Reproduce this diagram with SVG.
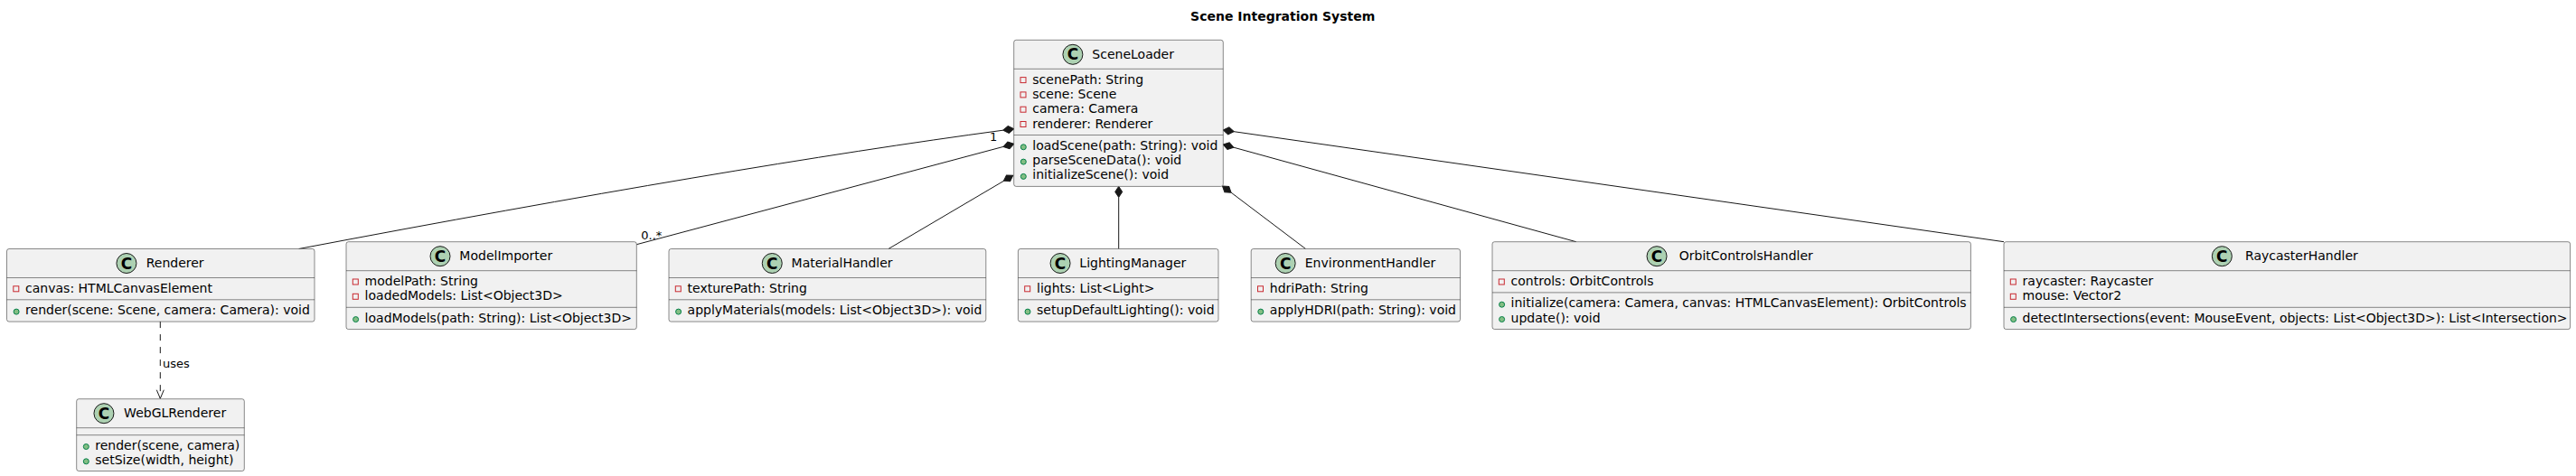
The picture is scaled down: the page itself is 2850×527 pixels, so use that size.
<svg xmlns="http://www.w3.org/2000/svg" xmlns:xlink="http://www.w3.org/1999/xlink" width="2850" height="527" viewBox="0 0 2850 527">
<style>
text{font-family:"DejaVu Sans","Liberation Sans",sans-serif;fill:#000}
.title{font-size:14px;font-weight:bold}
.box{fill:#F1F1F1;stroke:#181818;stroke-width:0.5}
.sep{stroke:#181818;stroke-width:0.5}
.badge{fill:#ADD1B2;stroke:#181818;stroke-width:1}
.ctxt{font-size:17px;font-weight:bold;text-anchor:middle}
.name{font-size:14px;text-anchor:middle}
.mem{font-size:14px}
.priv{fill:none;stroke:#C82930;stroke-width:1}
.pub{fill:#84BE84;stroke:#038048;stroke-width:1}
.edge{fill:none;stroke:#181818;stroke-width:1}
.dash{stroke-dasharray:7,7}
.lbl{font-size:13px}
.dia{fill:#181818;stroke:#181818;stroke-width:1}
</style>
<defs>
<path id="dia" d="M0,0 L6,-4 L12,0 L6,4 Z"/>
</defs>
<text class="title" x="1419.2" y="23.3" text-anchor="middle">Scene Integration System</text>

<g id="connectors">
<path class="edge" d="M1109.8,144.2 Q811.7,184.3 330.6,275.5"/>
<line class="edge" x1="1110.1" y1="162.4" x2="704.3" y2="270.7"/>
<line class="edge" x1="1110.4" y1="200.4" x2="983" y2="275.5"/>
<line class="edge" x1="1237.7" y1="218.4" x2="1237.7" y2="275.5"/>
<line class="edge" x1="1362.1" y1="213.2" x2="1444.5" y2="275.5"/>
<line class="edge" x1="1364.9" y1="163.2" x2="1743.75" y2="267.7"/>
<line class="edge" x1="1365.2" y1="145.7" x2="2217" y2="267.7"/>
<use xlink:href="#dia" href="#dia" class="dia" transform="translate(1121.7,142.7) rotate(172.6)"/>
<use xlink:href="#dia" href="#dia" class="dia" transform="translate(1121.7,159.3) rotate(165.06)"/>
<use xlink:href="#dia" href="#dia" class="dia" transform="translate(1120.7,194.3) rotate(149.53)"/>
<use xlink:href="#dia" href="#dia" class="dia" transform="translate(1237.7,206.4) rotate(90)"/>
<use xlink:href="#dia" href="#dia" class="dia" transform="translate(1352.5,206) rotate(37.07)"/>
<use xlink:href="#dia" href="#dia" class="dia" transform="translate(1353.3,160) rotate(15.42)"/>
<use xlink:href="#dia" href="#dia" class="dia" transform="translate(1353.3,144) rotate(8.15)"/>
<text class="lbl" x="1095" y="155.7">1</text>
<text class="lbl" x="709.3" y="265">0..*</text>
<line class="edge dash" x1="177.3" y1="356.1" x2="177.3" y2="440.7"/>
<polyline class="edge" points="173.3,431.7 177.3,441.2 181.3,431.7"/>
<text class="lbl" x="180" y="406.7">uses</text>
</g>

<g id="SceneLoader">
<rect class="box" x="1121.7" y="44.3" width="231.6" height="162.1" rx="2.5"/>
<circle class="badge" cx="1186.9" cy="60.3" r="11"/>
<text class="ctxt" x="1186.9" y="66.4">C</text>
<text class="name" x="1253.65" y="65">SceneLoader</text>
<line class="sep" x1="1121.7" y1="76.3" x2="1353.3" y2="76.3"/>
<rect class="priv" x="1129" y="85.6" width="6" height="6"/>
<text class="mem" x="1142.3" y="92.6">scenePath: String</text>
<rect class="priv" x="1129" y="101.9" width="6" height="6"/>
<text class="mem" x="1142.3" y="108.9">scene: Scene</text>
<rect class="priv" x="1129" y="118.2" width="6" height="6"/>
<text class="mem" x="1142.3" y="125.2">camera: Camera</text>
<rect class="priv" x="1129" y="134.5" width="6" height="6"/>
<text class="mem" x="1142.3" y="141.5">renderer: Renderer</text>
<line class="sep" x1="1121.7" y1="149.5" x2="1353.3" y2="149.5"/>
<circle class="pub" cx="1132.3" cy="162.8" r="3"/>
<text class="mem" x="1142.3" y="165.8">loadScene(path: String): void</text>
<circle class="pub" cx="1132.3" cy="179.1" r="3"/>
<text class="mem" x="1142.3" y="182.1">parseSceneData(): void</text>
<circle class="pub" cx="1132.3" cy="195.4" r="3"/>
<text class="mem" x="1142.3" y="198.4">initializeScene(): void</text>
</g>

<g id="Renderer">
<rect class="box" x="7.5" y="275.5" width="340.5" height="80.6" rx="2.5"/>
<circle class="badge" cx="139.95" cy="291.5" r="11"/>
<text class="ctxt" x="139.95" y="297.6">C</text>
<text class="name" x="193.65" y="296.2">Renderer</text>
<line class="sep" x1="7.5" y1="307.5" x2="348" y2="307.5"/>
<rect class="priv" x="14.8" y="316.8" width="6" height="6"/>
<text class="mem" x="28.1" y="323.8">canvas: HTMLCanvasElement</text>
<line class="sep" x1="7.5" y1="331.8" x2="348" y2="331.8"/>
<circle class="pub" cx="18.1" cy="345.1" r="3"/>
<text class="mem" x="28.1" y="348.1">render(scene: Scene, camera: Camera): void</text>
</g>

<g id="ModelImporter">
<rect class="box" x="383" y="267.7" width="321.3" height="96.9" rx="2.5"/>
<circle class="badge" cx="487" cy="283.7" r="11"/>
<text class="ctxt" x="487" y="289.8">C</text>
<text class="name" x="559.8" y="288.4">ModelImporter</text>
<line class="sep" x1="383" y1="299.7" x2="704.3" y2="299.7"/>
<rect class="priv" x="390.3" y="309" width="6" height="6"/>
<text class="mem" x="403.6" y="316">modelPath: String</text>
<rect class="priv" x="390.3" y="325.3" width="6" height="6"/>
<text class="mem" x="403.6" y="332.3">loadedModels: List&lt;Object3D&gt;</text>
<line class="sep" x1="383" y1="340.3" x2="704.3" y2="340.3"/>
<circle class="pub" cx="393.6" cy="353.6" r="3"/>
<text class="mem" x="403.6" y="356.6">loadModels(path: String): List&lt;Object3D&gt;</text>
</g>

<g id="WebGLRenderer">
<rect class="box" x="84.7" y="441.7" width="185.6" height="79.8" rx="2.5"/>
<circle class="badge" cx="114.95" cy="457.7" r="11"/>
<text class="ctxt" x="114.95" y="463.8">C</text>
<text class="name" x="193.65" y="462.4">WebGLRenderer</text>
<line class="sep" x1="84.7" y1="473.7" x2="270.3" y2="473.7"/>
<line class="sep" x1="84.7" y1="481.7" x2="270.3" y2="481.7"/>
<circle class="pub" cx="95.3" cy="494.5" r="3"/>
<text class="mem" x="105.3" y="497.5">render(scene, camera)</text>
<circle class="pub" cx="95.3" cy="510.8" r="3"/>
<text class="mem" x="105.3" y="513.8">setSize(width, height)</text>
</g>

<g id="MaterialHandler">
<rect class="box" x="740" y="275.5" width="350.8" height="80.6" rx="2.5"/>
<circle class="badge" cx="854.25" cy="291.5" r="11"/>
<text class="ctxt" x="854.25" y="297.6">C</text>
<text class="name" x="931.55" y="296.2">MaterialHandler</text>
<line class="sep" x1="740" y1="307.5" x2="1090.8" y2="307.5"/>
<rect class="priv" x="747.3" y="316.8" width="6" height="6"/>
<text class="mem" x="760.6" y="323.8">texturePath: String</text>
<line class="sep" x1="740" y1="331.8" x2="1090.8" y2="331.8"/>
<circle class="pub" cx="750.6" cy="345.1" r="3"/>
<text class="mem" x="760.6" y="348.1">applyMaterials(models: List&lt;Object3D&gt;): void</text>
</g>

<g id="LightingManager">
<rect class="box" x="1126.4" y="275.5" width="221.6" height="80.6" rx="2.5"/>
<circle class="badge" cx="1173.05" cy="291.5" r="11"/>
<text class="ctxt" x="1173.05" y="297.6">C</text>
<text class="name" x="1253.35" y="296.2">LightingManager</text>
<line class="sep" x1="1126.4" y1="307.5" x2="1348" y2="307.5"/>
<rect class="priv" x="1133.7" y="316.8" width="6" height="6"/>
<text class="mem" x="1147" y="323.8">lights: List&lt;Light&gt;</text>
<line class="sep" x1="1126.4" y1="331.8" x2="1348" y2="331.8"/>
<circle class="pub" cx="1137" cy="345.1" r="3"/>
<text class="mem" x="1147" y="348.1">setupDefaultLighting(): void</text>
</g>

<g id="EnvironmentHandler">
<rect class="box" x="1384.2" y="275.5" width="231.3" height="80.6" rx="2.5"/>
<circle class="badge" cx="1422.15" cy="291.5" r="11"/>
<text class="ctxt" x="1422.15" y="297.6">C</text>
<text class="name" x="1516" y="296.2">EnvironmentHandler</text>
<line class="sep" x1="1384.2" y1="307.5" x2="1615.5" y2="307.5"/>
<rect class="priv" x="1391.5" y="316.8" width="6" height="6"/>
<text class="mem" x="1404.8" y="323.8">hdriPath: String</text>
<line class="sep" x1="1384.2" y1="331.8" x2="1615.5" y2="331.8"/>
<circle class="pub" cx="1394.8" cy="345.1" r="3"/>
<text class="mem" x="1404.8" y="348.1">applyHDRI(path: String): void</text>
</g>

<g id="OrbitControlsHandler">
<rect class="box" x="1651" y="267.7" width="529.4" height="96.8" rx="2.5"/>
<circle class="badge" cx="1833.05" cy="283.7" r="11"/>
<text class="ctxt" x="1833.05" y="289.8">C</text>
<text class="name" x="1931.85" y="288.4">OrbitControlsHandler</text>
<line class="sep" x1="1651" y1="299.7" x2="2180.4" y2="299.7"/>
<rect class="priv" x="1658.3" y="309" width="6" height="6"/>
<text class="mem" x="1671.6" y="316">controls: OrbitControls</text>
<line class="sep" x1="1651" y1="323.9" x2="2180.4" y2="323.9"/>
<circle class="pub" cx="1661.6" cy="337.2" r="3"/>
<text class="mem" x="1671.6" y="340.2">initialize(camera: Camera, canvas: HTMLCanvasElement): OrbitControls</text>
<circle class="pub" cx="1661.6" cy="353.5" r="3"/>
<text class="mem" x="1671.6" y="356.5">update(): void</text>
</g>

<g id="RaycasterHandler">
<rect class="box" x="2217" y="267.7" width="626.6" height="96.9" rx="2.5"/>
<circle class="badge" cx="2458.35" cy="283.7" r="11"/>
<text class="ctxt" x="2458.35" y="289.8">C</text>
<text class="name" x="2546.45" y="288.4">RaycasterHandler</text>
<line class="sep" x1="2217" y1="299.7" x2="2843.6" y2="299.7"/>
<rect class="priv" x="2224.3" y="309" width="6" height="6"/>
<text class="mem" x="2237.6" y="316">raycaster: Raycaster</text>
<rect class="priv" x="2224.3" y="325.3" width="6" height="6"/>
<text class="mem" x="2237.6" y="332.3">mouse: Vector2</text>
<line class="sep" x1="2217" y1="340.3" x2="2843.6" y2="340.3"/>
<circle class="pub" cx="2227.6" cy="353.6" r="3"/>
<text class="mem" x="2237.6" y="356.6">detectIntersections(event: MouseEvent, objects: List&lt;Object3D&gt;): List&lt;Intersection&gt;</text>
</g>
</svg>
